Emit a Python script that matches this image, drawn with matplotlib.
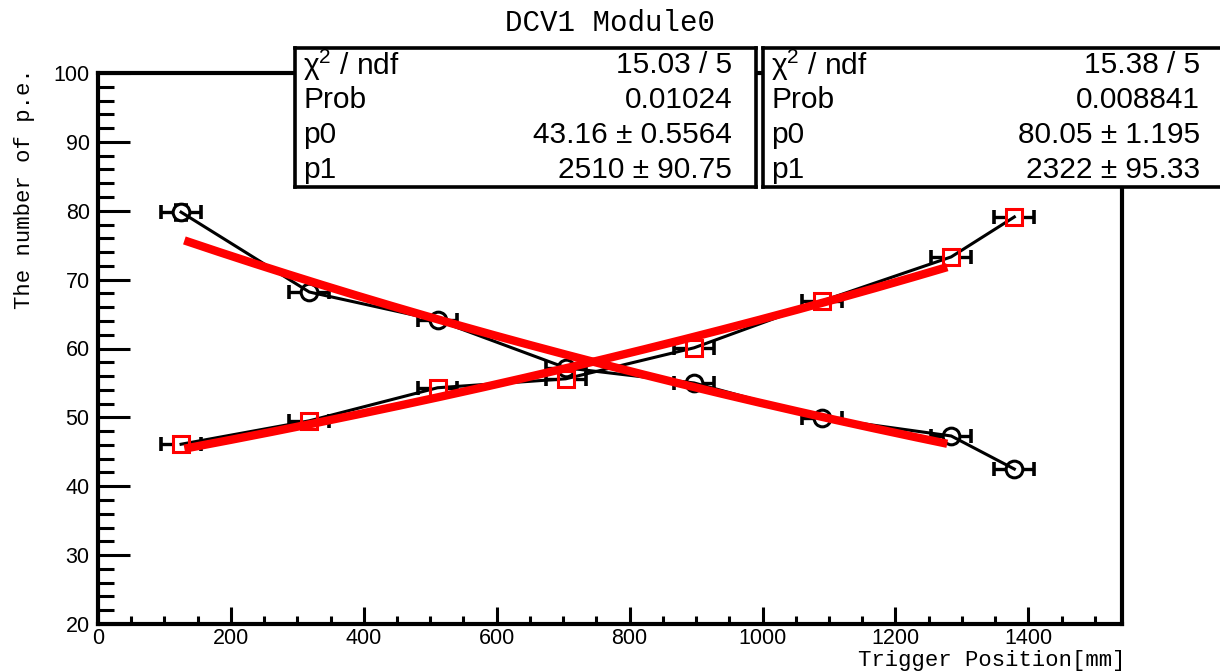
import numpy as np
import matplotlib
matplotlib.use('Agg')
import matplotlib.pyplot as plt
from matplotlib.ticker import MultipleLocator

# trigger positions [mm] and their spread
pos = [125, 318, 511, 704, 897, 1090, 1284, 1379]
pos_err = [30, 30, 30, 30, 30, 30, 30, 30]

# photo-electrons seen from each end of the module
pe_circle = [79.8, 68.2, 64.1, 57.2, 55.0, 49.9, 47.3, 42.5]
pe_circle_err = [1.1, 0.6, 0.6, 0.6, 0.5, 0.5, 0.5, 0.5]
pe_square = [46.1, 49.5, 54.3, 55.6, 60.1, 66.9, 73.3, 79.1]
pe_square_err = [0.5, 0.5, 0.6, 0.6, 0.6, 0.7, 0.8, 0.9]

# fit results: p0*exp(+x/p1) for squares, p0*exp(-x/p1) for circles
fit_sq = {'chi2': '15.03 / 5', 'prob': '0.01024', 'p0': 43.16, 'p0e': '0.5564', 'p1': 2510, 'p1e': '90.75'}
fit_ci = {'chi2': '15.38 / 5', 'prob': '0.008841', 'p0': 80.05, 'p0e': '1.195', 'p1': 2322, 'p1e': '95.33'}
fit_range = (130, 1278)

SANS = 'Liberation Sans'
MONO = 'Liberation Mono'
plt.rcParams['mathtext.fontset'] = 'custom'
plt.rcParams['mathtext.rm'] = SANS
plt.rcParams['mathtext.it'] = SANS + ':italic'

fig = plt.figure(figsize=(12.2, 6.72), dpi=100)
ax = fig.add_axes([98/1220, 48/672, 1024/1220, 551/672])


def draw_graph(y, yerr, marker, color):
    ax.errorbar(pos, y, xerr=pos_err, yerr=yerr, fmt='none', ecolor='black',
                elinewidth=2.4, capsize=5, capthick=2.6, zorder=2)
    ax.plot(pos, y, linestyle='none', marker=marker, markersize=12,
            markerfacecolor='white', markeredgecolor='white', zorder=3)
    ax.plot(pos, y, color='black', linewidth=2.2, zorder=4)
    ax.plot(pos, y, linestyle='none', marker=marker, markersize=12,
            markerfacecolor='none', markeredgecolor=color, markeredgewidth=2.2, zorder=5)


draw_graph(pe_circle, pe_circle_err, 'o', 'black')
draw_graph(pe_square, pe_square_err, 's', 'red')

xf = np.linspace(fit_range[0], fit_range[1], 200)
ax.plot(xf, fit_sq['p0']*np.exp(xf/fit_sq['p1']), color='red', linewidth=6, zorder=6,
        solid_capstyle='butt')
ax.plot(xf, fit_ci['p0']*np.exp(-xf/fit_ci['p1']), color='red', linewidth=6, zorder=6,
        solid_capstyle='butt')

ax.set_xlim(0, 1541)
ax.set_ylim(20, 100)
ax.xaxis.set_major_locator(MultipleLocator(200))
ax.xaxis.set_minor_locator(MultipleLocator(50))
ax.yaxis.set_major_locator(MultipleLocator(10))
ax.yaxis.set_minor_locator(MultipleLocator(2))
ax.tick_params(axis='both', which='both', direction='in', width=2.2, top=False, right=False,
               labelsize=15.5, labelfontfamily=SANS)
ax.tick_params(axis='x', which='major', length=12.5, pad=3)
ax.tick_params(axis='x', which='minor', length=6)
ax.tick_params(axis='y', which='major', length=23, pad=6)
ax.tick_params(axis='y', which='minor', length=11.5)
for sp in ax.spines.values():
    sp.set_linewidth(3)

fig.text(610/1220, 1 - 23/672, 'DCV1 Module0', family=MONO, fontsize=21,
         ha='center', va='center')
fig.text(1125/1220, 1 - 671/672, 'Trigger Position[mm]', family=MONO, fontsize=16,
         ha='right', va='bottom')
fig.text(25/1220, 1 - 68/672, 'The number of p.e.', family=MONO, fontsize=16,
         rotation=90, ha='center', va='top')


def stats_box(x0, x1, fit):
    box = fig.add_axes([x0/1220, 1 - 187/672, (x1 - x0)/1220, 139/672])
    box.set_xlim(0, 1)
    box.set_ylim(0, 4)
    box.set_xticks([])
    box.set_yticks([])
    box.set_facecolor('white')
    for sp in box.spines.values():
        sp.set_linewidth(2.6)
    rows = [(r'$\mathrm{\chi}^{2}$ / ndf', fit['chi2']),
            ('Prob', fit['prob']),
            ('p0', f"{fit['p0']:.2f} \u00b1 {fit['p0e']}"),
            ('p1', f"{fit['p1']} \u00b1 {fit['p1e']}")]
    w = x1 - x0
    for i, (name, val) in enumerate(rows):
        yc = 3.5 - i
        box.text(8/w, yc, name, family=SANS, fontsize=21.5, ha='left', va='center')
        box.text(1 - 24/w, yc, val, family=SANS, fontsize=21.5, ha='right', va='center')


stats_box(295, 756, fit_sq)
stats_box(763, 1224, fit_ci)

fig.savefig('out.png', dpi=100)
